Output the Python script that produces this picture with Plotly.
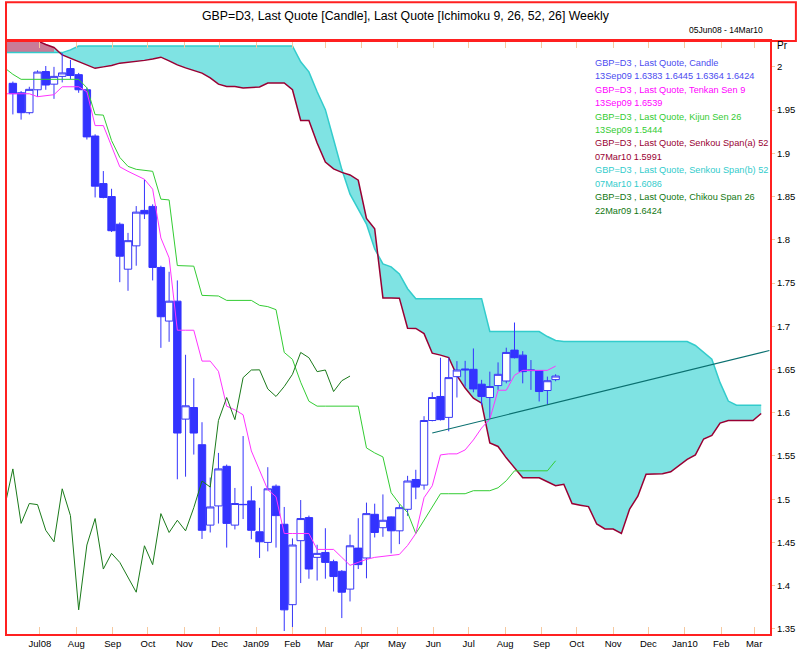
import plotly.graph_objects as go
import pandas as pd

FONT = "Liberation Sans, Arial, sans-serif"

# ---------------- data ----------------
candle_dates = pd.date_range("2008-06-08", periods=67, freq="7D")
opens = [1.981, 1.970, 1.947, 1.9735, 1.9946, 1.980, 1.989, 1.998, 1.991, 1.9735,
         1.920, 1.865, 1.850, 1.818, 1.766, 1.793, 1.834, 1.8386, 1.768, 1.706,
         1.729, 1.5926, 1.606, 1.563, 1.470, 1.4922, 1.538, 1.470, 1.494, 1.498,
         1.4623, 1.450, 1.515, 1.471, 1.378, 1.452, 1.4787, 1.4327, 1.4384, 1.4277,
         1.4166, 1.396, 1.4434, 1.432, 1.4825, 1.467, 1.4795, 1.4634, 1.4883, 1.5228,
         1.5163, 1.591, 1.6188, 1.5946, 1.6417, 1.6506, 1.6502, 1.633, 1.6176, 1.6314,
         1.6367, 1.6724, 1.6666, 1.6487, 1.6487, 1.6257, 1.6383]
highs = [1.983, 1.972, 1.977, 1.996, 2.001, 2.000, 2.016, 2.008, 1.993, 1.976,
         1.922, 1.8795, 1.859, 1.820, 1.808, 1.839, 1.8697, 1.841, 1.770, 1.763,
         1.753, 1.667, 1.640, 1.589, 1.525, 1.5535, 1.540, 1.513, 1.573, 1.515,
         1.490, 1.537, 1.517, 1.491, 1.4546, 1.499, 1.481, 1.4473, 1.4664, 1.430,
         1.418, 1.459, 1.478, 1.496, 1.4948, 1.5055, 1.480, 1.4941, 1.527, 1.534,
         1.596, 1.6237, 1.6636, 1.6636, 1.6597, 1.660, 1.6743, 1.638, 1.6475, 1.6582,
         1.6752, 1.7043, 1.6712, 1.6609, 1.649, 1.6418, 1.6445]
lows = [1.945, 1.939, 1.945, 1.9655, 1.9735, 1.963, 1.982, 1.986, 1.970, 1.916,
        1.849, 1.848, 1.809, 1.751, 1.741, 1.770, 1.824, 1.753, 1.675, 1.682,
        1.523, 1.526, 1.5516, 1.454, 1.4615, 1.4718, 1.444, 1.465, 1.477, 1.4537,
        1.432, 1.4396, 1.444, 1.3475, 1.352, 1.403, 1.408, 1.4059, 1.408, 1.3932,
        1.3625, 1.3817, 1.4192, 1.4085, 1.4557, 1.4565, 1.4373, 1.448, 1.4807, 1.500,
        1.511, 1.590, 1.591, 1.5785, 1.6176, 1.630, 1.6236, 1.609, 1.5938, 1.6264,
        1.634, 1.6628, 1.634, 1.6264, 1.613, 1.6099, 1.6364]
closes = [1.969, 1.947, 1.974, 1.994, 1.979, 1.989, 1.993, 1.990, 1.9735, 1.919,
          1.862, 1.849, 1.8105, 1.781, 1.799, 1.832, 1.830, 1.768, 1.711, 1.729,
          1.5765, 1.608, 1.5765, 1.464, 1.491, 1.535, 1.472, 1.495, 1.4937, 1.464,
          1.4507, 1.512, 1.481, 1.372, 1.447, 1.4776, 1.4192, 1.4373, 1.4269, 1.4105,
          1.3924, 1.4461, 1.4243, 1.4833, 1.4615, 1.4756, 1.4634, 1.4902, 1.521, 1.514,
          1.591, 1.6176, 1.592, 1.6406, 1.6494, 1.6496, 1.6275, 1.6188, 1.6303, 1.6444,
          1.6697, 1.6636, 1.6475, 1.6494, 1.6245, 1.637, 1.6424]

line_dates = pd.date_range("2008-06-01", periods=68, freq="7D")
tenkan = [1.9689, 1.9689, 1.9689, 1.9689, 1.9655, 1.9666, 1.9678, 1.977, 1.977, 1.977,
          1.9712, 1.9321, 1.9321, 1.9091, 1.8844, 1.8792, 1.8746, 1.870, 1.8585, 1.8021,
          1.7791, 1.6954, 1.6954, 1.6954, 1.6597, 1.6597, 1.6479, 1.6076, 1.6033, 1.5976,
          1.5558, 1.5328, 1.5109, 1.5029, 1.4603, 1.4603, 1.4603, 1.4603, 1.4419, 1.4419,
          1.4419, 1.4327, 1.4235, 1.4269, 1.4304, 1.4327, 1.4338, 1.435, 1.4361, 1.4465,
          1.4603, 1.5017, 1.5155, 1.5512, 1.5524, 1.5524, 1.557, 1.5685, 1.5823, 1.5926,
          1.626, 1.626, 1.6433, 1.649, 1.649, 1.649, 1.649, 1.6539]
kijun = [1.9988, 1.9914, 1.9856, 1.9856, 1.9856, 1.9856, 1.9856, 1.9856, 1.9856, 1.9856,
         1.9758, 1.9448, 1.9442, 1.9148, 1.8953, 1.8849, 1.8815, 1.8803, 1.8792, 1.847,
         1.8461, 1.7702, 1.7699, 1.7695, 1.7357, 1.7353, 1.735, 1.7299, 1.7299, 1.7299,
         1.7299, 1.7242, 1.7227, 1.7192, 1.6697, 1.6617, 1.6352, 1.6133, 1.6076, 1.6076,
         1.6076, 1.6076, 1.6076, 1.6076, 1.5593, 1.5535, 1.5489, 1.5075, 1.4948, 1.4845,
         1.4603, 1.4753, 1.4914, 1.5063, 1.5063, 1.5063, 1.5063, 1.5098, 1.5098, 1.5098,
         1.5132, 1.5213, 1.5328, 1.5328, 1.5328, 1.5328, 1.5328, 1.5444]

span_dates = pd.date_range("2008-06-01", periods=93, freq="7D")
senkou_a = [2.042, 2.039, 2.036, 2.033, 2.030, 2.0259, 2.0224, 2.0138, 2.0098, 2.0058,
            2.0017, 1.9983, 2.0, 2.0017, 2.0043, 2.0052, 2.0058, 2.0075, 2.0092, 2.0112,
            2.0069, 2.0023, 1.9988, 1.9954, 1.9928, 1.9873, 1.980, 1.9773, 1.9773, 1.9756,
            1.9761, 1.9767, 1.9813, 1.9813, 1.9813, 1.9735, 1.938, 1.938, 1.912, 1.8899,
            1.882, 1.878, 1.875, 1.8689, 1.8246, 1.8126, 1.7328, 1.7327, 1.7325, 1.6977,
            1.6975, 1.6915, 1.6688, 1.6666, 1.6638, 1.6429, 1.6285, 1.6168, 1.611, 1.565,
            1.561, 1.5478, 1.5368, 1.5248, 1.5248, 1.5248, 1.5202, 1.5156, 1.5173, 1.4949,
            1.4931, 1.4914, 1.4713, 1.4655, 1.4655, 1.4603, 1.4885, 1.5035, 1.5288, 1.5294,
            1.5294, 1.5317, 1.539, 1.546, 1.5512, 1.5696, 1.5737, 1.588, 1.5909, 1.5909,
            1.5909, 1.5909, 1.5991]
senkou_b = [2.0165, 2.0165, 2.0165, 2.0165, 2.0165, 2.0165, 2.0165, 2.0165, 2.0196, 2.0242,
            2.0242, 2.0242, 2.0242, 2.0242, 2.0242, 2.0242, 2.0242, 2.0242, 2.0242, 2.0242,
            2.0242, 2.0242, 2.0242, 2.0242, 2.0242, 2.0242, 2.0242, 2.0242, 2.0242, 2.0242,
            2.0242, 2.0242, 2.0242, 2.0242, 2.0242, 2.0242, 2.0058, 1.9942, 1.9712, 1.9505,
            1.916, 1.8815, 1.8527, 1.8354, 1.8182, 1.7894, 1.7721, 1.7687, 1.7606, 1.7434,
            1.7319, 1.7319, 1.7319, 1.7319, 1.7319, 1.7319, 1.7319, 1.7319, 1.7319, 1.6939,
            1.6939, 1.6939, 1.6939, 1.6939, 1.6939, 1.6939, 1.6881, 1.6835, 1.6824, 1.6824,
            1.6824, 1.6824, 1.6824, 1.6824, 1.6824, 1.6824, 1.6824, 1.6824, 1.6824, 1.6824,
            1.6824, 1.6824, 1.6824, 1.6824, 1.6778, 1.6703, 1.6618, 1.6348, 1.6135, 1.6086,
            1.6086, 1.6086, 1.6086]

chikou_dates = pd.date_range("2008-06-01", periods=43, freq="7D")
chikou = [1.491, 1.535, 1.472, 1.495, 1.4937, 1.464, 1.4507, 1.512, 1.481, 1.372,
          1.447, 1.4776, 1.4192, 1.4373, 1.4269, 1.4105, 1.3924, 1.4461, 1.4243, 1.4833,
          1.4615, 1.4756, 1.4634, 1.4902, 1.521, 1.514, 1.591, 1.6176, 1.592, 1.6406,
          1.6494, 1.6496, 1.6275, 1.6188, 1.6303, 1.6444, 1.6697, 1.6636, 1.6475, 1.6494,
          1.6245, 1.637, 1.6424]

trend_dates = ["2009-05-31", "2010-03-14"]
trend_values = [1.5765, 1.672]

month_ticks = pd.date_range("2008-07-01", "2010-03-01", freq="MS")
month_labels = ["Jul08", "Aug", "Sep", "Oct", "Nov", "Dec", "Jan09", "Feb", "Mar", "Apr",
                "May", "Jun", "Jul", "Aug", "Sep", "Oct", "Nov", "Dec", "Jan10", "Feb", "Mar"]
price_ticks = [1.35, 1.4, 1.45, 1.5, 1.55, 1.6, 1.65, 1.7, 1.75, 1.8, 1.85, 1.9, 1.95, 2.0]
price_labels = ["1.35", "1.4", "1.45", "1.5", "1.55", "1.6", "1.65", "1.7", "1.75", "1.8",
                "1.85", "1.9", "1.95", "2"]

legend_lines = [
    ("GBP=D3 , Last Quote, Candle", "#4B4BF0"),
    ("13Sep09 1.6383 1.6445 1.6364 1.6424", "#4B4BF0"),
    ("GBP=D3 , Last Quote, Tenkan Sen 9", "#FF00FF"),
    ("13Sep09 1.6539", "#FF00FF"),
    ("GBP=D3 , Last Quote, Kijun Sen 26", "#33CC33"),
    ("13Sep09 1.5444", "#33CC33"),
    ("GBP=D3 , Last Quote, Senkou Span(a) 52", "#990033"),
    ("07Mar10 1.5991", "#990033"),
    ("GBP=D3 , Last Quote, Senkou Span(b) 52", "#33CCCC"),
    ("07Mar10 1.6086", "#33CCCC"),
    ("GBP=D3 , Last Quote, Chikou Span 26", "#117711"),
    ("22Mar09 1.6424", "#117711"),
]

# ---------------- figure ----------------
W, H = 800, 654
L, R, T, B = 5, 29, 41, 17
X_RANGE = ["2008-06-03", "2010-03-14 12:00"]
Y_RANGE = [1.34407, 2.02992]


def px_x(px):
    return (px - L) / (W - L - R)


def px_y(py):
    return (H - B - py) / (H - T - B)


fig = go.Figure()

# cloud fills (base subplot)
fig.add_trace(go.Scatter(x=span_dates[:7], y=senkou_b[:7], mode="lines", line=dict(width=0),
                         hoverinfo="skip", showlegend=False))
fig.add_trace(go.Scatter(x=span_dates[:7], y=senkou_a[:7], mode="lines", line=dict(width=0),
                         fill="tonexty", fillcolor="#C97B98", hoverinfo="skip", showlegend=False))
fig.add_trace(go.Scatter(x=span_dates[6:], y=senkou_b[6:], mode="lines", line=dict(width=0),
                         hoverinfo="skip", showlegend=False))
fig.add_trace(go.Scatter(x=span_dates[6:], y=senkou_a[6:], mode="lines", line=dict(width=0),
                         fill="tonexty", fillcolor="#7FE3E3", hoverinfo="skip", showlegend=False))
fig.add_trace(go.Scatter(x=span_dates, y=senkou_b, mode="lines",
                         line=dict(color="#33CCCC", width=1.5), showlegend=False))
fig.add_trace(go.Scatter(x=span_dates, y=senkou_a, mode="lines",
                         line=dict(color="#990033", width=1.5), showlegend=False))

# candles (overlay subplot so they sit above the cloud)
fig.add_trace(go.Candlestick(
    x=candle_dates, open=opens, high=highs, low=lows, close=closes,
    increasing=dict(line=dict(color="#3838F5", width=1), fillcolor="white"),
    decreasing=dict(line=dict(color="#3333FF", width=1), fillcolor="#3333FF"),
    whiskerwidth=0, showlegend=False, xaxis="x2", yaxis="y2"))

# indicator lines
fig.add_trace(go.Scatter(x=line_dates, y=kijun, mode="lines", xaxis="x2", yaxis="y2",
                         line=dict(color="#33CC33", width=1), showlegend=False))
fig.add_trace(go.Scatter(x=line_dates, y=tenkan, mode="lines", xaxis="x2", yaxis="y2",
                         line=dict(color="#FF33FF", width=1), showlegend=False))
fig.add_trace(go.Scatter(x=chikou_dates, y=chikou, mode="lines", xaxis="x2", yaxis="y2",
                         line=dict(color="#1A7A1A", width=1), showlegend=False))
fig.add_trace(go.Scatter(x=trend_dates, y=trend_values, mode="lines", xaxis="x2", yaxis="y2",
                         line=dict(color="#0A7070", width=1.2), showlegend=False))

annotations = [
    dict(x=px_x(406), y=px_y(16), xref="paper", yref="paper", showarrow=False,
         text="GBP=D3, Last Quote [Candle], Last Quote [Ichimoku 9, 26, 52, 26] Weekly",
         font=dict(family=FONT, size=12.3, color="black"), xanchor="center", yanchor="middle"),
    dict(x=px_x(766), y=px_y(30), xref="paper", yref="paper", showarrow=False,
         text="05Jun08 - 14Mar10", font=dict(family=FONT, size=8.5, color="black"),
         xanchor="right", yanchor="middle"),
    dict(x=px_x(776), y=px_y(46), xref="paper", yref="paper", showarrow=False,
         text="Pr", font=dict(family=FONT, size=10, color="black"),
         xanchor="left", yanchor="middle"),
]
for i, (txt, col) in enumerate(legend_lines):
    annotations.append(dict(x=px_x(593), y=px_y(63 + 13.5 * i), xref="paper", yref="paper",
                            showarrow=False, text=txt, font=dict(family=FONT, size=9.2, color=col),
                            xanchor="left", yanchor="middle"))

fig.update_layout(
    width=W, height=H,
    margin=dict(l=L, r=R, t=T, b=B, pad=0),
    paper_bgcolor="white", plot_bgcolor="white",
    showlegend=False, boxgap=0.1, boxgroupgap=0, hovermode=False,
    font=dict(family=FONT, size=10, color="black"),
    annotations=annotations,
    shapes=[dict(type="rect", xref="paper", yref="paper",
                 x0=px_x(4), x1=px_x(797), y0=px_y(41), y1=px_y(2),
                 line=dict(color="#FF2020", width=2))],
    xaxis=dict(type="date", range=X_RANGE,
               tickmode="array", tickvals=list(month_ticks), ticktext=month_labels,
               ticks="inside", ticklen=7, tickwidth=1, tickcolor="#F6C9A0",
               showline=True, linecolor="#FF2020", linewidth=2, mirror="ticks",
               showgrid=False, zeroline=False, rangeslider=dict(visible=False),
               tickfont=dict(family=FONT, size=9.5, color="black")),
    yaxis=dict(side="right", range=Y_RANGE,
               tickmode="array", tickvals=price_ticks, ticktext=price_labels,
               ticks="outside", ticklen=3, tickwidth=1, tickcolor="#F6C9A0",
               showline=True, linecolor="#FF2020", linewidth=2, mirror=True,
               showgrid=False, zeroline=False,
               tickfont=dict(family=FONT, size=9.5, color="black")),
    xaxis2=dict(type="date", range=X_RANGE, overlaying="x", anchor="y2", visible=False,
                showgrid=False, zeroline=False, rangeslider=dict(visible=False)),
    yaxis2=dict(range=Y_RANGE, overlaying="y", anchor="x2", side="right", visible=False,
                showgrid=False, zeroline=False),
)

fig.write_html("out.html", config={"displayModeBar": False, "staticPlot": True},
               post_script="document.body.style.margin='0px';document.body.style.padding='0px';"
                           "document.body.style.overflow='hidden';")
